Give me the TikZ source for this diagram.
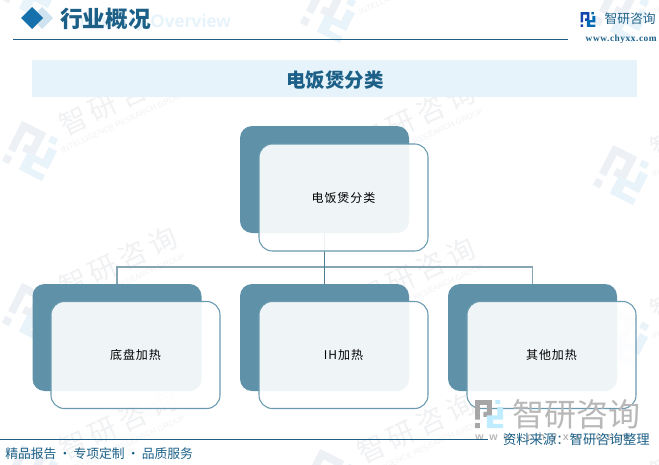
\documentclass[tikz,border=0pt]{standalone}
\usepackage{fontspec}
\usetikzlibrary{positioning}
\setmainfont{Liberation Sans}
\newfontfamily\cjk[LetterSpace=8]{Noto Sans CJK SC}
\newfontfamily\cjktight{Noto Sans CJK SC}
\newfontfamily\urlfont[LetterSpace=6]{Liberation Serif}
\definecolor{boxblue}{HTML}{5F92A9}
\definecolor{edgeblue}{HTML}{6A9AB0}
\definecolor{linkgrey}{HTML}{85A5B5}
\definecolor{linkdark}{HTML}{4F7D92}
\definecolor{headblue}{HTML}{1C6088}
\definecolor{bandblue}{HTML}{E6F3FB}
\definecolor{wmgrey}{HTML}{EDF0F4}
\definecolor{wmblue}{HTML}{E9F3FA}
\definecolor{wmtext}{HTML}{F0F1F3}
\definecolor{markdark}{HTML}{1670AB}
\definecolor{marklight}{HTML}{CFE2EF}
\tikzset{
  backbox/.style={fill=boxblue,rounded corners=9pt,minimum width=126.75pt,minimum height=80.25pt,inner sep=0pt},
  frontbox/.style={draw=edgeblue,line width=.8pt,fill=white,fill opacity=.9,text opacity=1,rounded corners=10pt,
    minimum width=126.75pt,minimum height=80.25pt,inner sep=0pt,font=\cjk\fontsize{9}{9}\selectfont},
  headtext/.style={text=headblue,inner sep=0pt,font=\cjktight\bfseries},
  logoA/.pic={\fill[#1] (-20,-20) -- (4,-20) -- (4,4) -- (-8,4) -- (-8,-3) -- (-3,-3) -- (-3,-13) -- (-13,-13) -- (-13,8) -- (-20,8) -- cycle
      (-20,13) rectangle (-13,20);},
  logoB/.pic={\fill[#1] (9,-20) rectangle (16,-14)
      (10,-10) -- (20,-10) -- (20,8) -- (6,8) -- (6,14) -- (20,14) -- (20,20) -- (-3,20) -- (-3,2) -- (12,2) -- (12,-10) -- cycle;}
}
\begin{document}
\begin{tikzpicture}[x=.75pt,y=-.75pt]
\useasboundingbox (0,0) rectangle (659,464);
% watermarks
\foreach \wx/\wy in {32/-10,32/151,32/313,32/475,330/13,330/168,330/324,330/479,623/13,623/175,623/337,623/499}{
  \pic[rotate=-27,scale=1.12] at (\wx,\wy) {logoA=wmgrey};
  \pic[rotate=-27,scale=1.12] at (\wx,\wy) {logoB=wmblue};
  \node[rotate=25,text=wmtext,inner sep=0pt,font=\cjktight\fontsize{21}{21}\selectfont] at (\wx+86,\wy-51) {智\,研\,咨\,询};
  \node[rotate=25,text=wmtext,inner sep=0pt,font=\fontsize{6}{6}\selectfont] at (\wx+91,\wy-29) {INTELLIGENCE RESEARCH GROUP};
}
% header
\node[anchor=east,text=bandblue,inner sep=0pt,font=\bfseries\fontsize{13.5}{13.5}\selectfont] (en) at (231,23) {Industry Overview};
\coordinate (d0) at (42,18);
\coordinate (d1) at (32,18);
\fill[marklight] (d0)+(-11,0) -- +(0,-11) -- +(11,0) -- +(0,11) -- cycle;
\fill[markdark] (d1)+(-11,0) -- +(0,-11) -- +(11,0) -- +(0,11) -- cycle;
\node[headtext,anchor=west,font=\cjktight\bfseries\fontsize{17}{17}\selectfont] (title) at (60,19) {行业概况};
\node[headtext,anchor=east,font=\cjktight\fontsize{9.6}{9.6}\selectfont] (brand) at (656,19) {智研咨询};
\node[anchor=east,inner sep=0pt,text=headblue,font=\urlfont\bfseries\fontsize{7}{7}\selectfont] (url) at (657,39) {www.chyxx.com};
\pic at (588,19.5) [scale=.37] {logoA=headblue!70!blue};
\pic at (588,19.5) [scale=.37] {logoB=blue!40!cyan!70!black};
\coordinate (h0) at (13,39);
\coordinate (h1) at (568,39);
\draw[headblue,line width=.6pt] (h0) -- (h1);
\node[fill=bandblue,minimum width=453.75pt,minimum height=27.75pt,inner sep=0pt] (band) at (334.5,78.5) {};
\node[headtext,font=\cjktight\bfseries\fontsize{14.6}{14.6}\selectfont] at (335,80) {电饭煲分类};
% boxes
\node[backbox] (b0) at (324.5,179.5) {};
\node[backbox] (b1) at (117,337.5) {};
\node[backbox] (b2) at (324.5,337.5) {};
\node[backbox] (b3) at (532.5,337.5) {};
\coordinate (hub) at (324.5,267);
\draw[linkgrey,line width=.8pt] (b1.north) |- (hub) -| (b3.north);
\draw[linkdark,line width=.8pt] (b0.south) -- (b2.north);
\node[frontbox] (f0) at (343.5,197.5) {电饭煲分类};
\node[frontbox] (f1) at (135.5,355) {底盘加热};
\node[frontbox] (f2) at (343.5,355) {IH加热};
\node[frontbox] (f3) at (551.5,355) {其他加热};
\draw[linkdark,line width=1.2pt] (f0.south -| hub) -- (hub);
% footer
\pic at (489,414) [scale=.7] {logoA={black!35}};
\pic at (489,414) [scale=.7] {logoB={blue!30!cyan!25}};
\node[text=black!28,inner sep=0pt,font=\cjktight\fontsize{24}{24}\selectfont,anchor=west] (mark) at (512,414) {智研咨询};
\node[text=black!28,inner sep=0pt,anchor=west,font=\bfseries\fontsize{8}{8}\selectfont] (markurl) at (475,438) {w\ \ w\ \ w\ \ .\ \ c\ \ h\ \ y\ \ x\ \ x\ \ .\ \ c\ \ o\ \ m};
\coordinate (l0) at (0,439);
\coordinate (l1) at (488,439);
\draw[headblue,line width=.6pt] (l0) -- (l1);
\node[headtext,font=\cjktight\fontsize{10}{10}\selectfont,anchor=east] (src) at (650,439) {资料来源：智研咨询整理};
\node[headtext,font=\cjktight\fontsize{9.6}{9.6}\selectfont,anchor=west] (foot) at (5,454) {精品报告\,·\,专项定制\,·\,品质服务};
\end{tikzpicture}
\end{document}
